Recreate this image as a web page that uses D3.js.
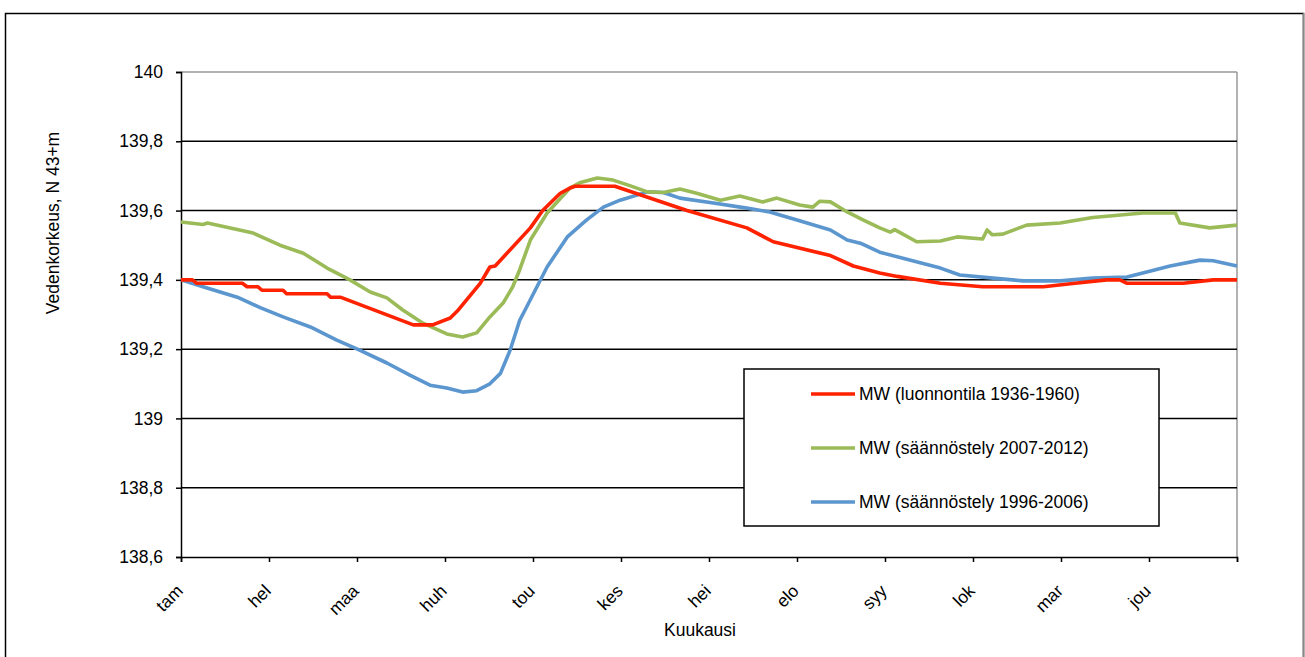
<!DOCTYPE html>
<html><head><meta charset="utf-8">
<script src="https://cdn.jsdelivr.net/npm/d3@7"></script>
<style>body{margin:0;background:#fff}svg{display:block;font-family:"Liberation Sans",Arial,sans-serif}</style>
</head><body><svg id="c" width="1305" height="657"></svg>
<script>
const months = ["tam","hel","maa","huh","tou","kes","hei","elo","syy","lok","mar","jou"];
const yTicks = [138.6,138.8,139,139.2,139.4,139.6,139.8,140];
const seriesNames = ["MW (luonnontila 1936-1960)","MW (säännöstely 2007-2012)","MW (säännöstely 1996-2006)"];
const seriesColors = ["#ff2200","#9bbb59","#5b96cf"];

// x in months (0 = start of January, 12 = end of December)
const redX = [0,0.13,0.18,0.70,0.75,0.875,0.92,1.16,1.20,1.66,1.70,1.81,2.64,2.86,3.06,3.14,3.40,3.51,3.57,3.97,4.11,4.31,4.42,4.48,4.93,5.75,6.43,6.73,7.38,7.64,7.94,8.14,8.63,9.11,9.80,10.16,10.52,10.67,10.75,11.39,11.73,12];
const redY = [139.40,139.40,139.39,139.39,139.38,139.38,139.37,139.37,139.36,139.36,139.35,139.35,139.27,139.27,139.29,139.31,139.39,139.437,139.44,139.55,139.60,139.65,139.665,139.67,139.67,139.60,139.55,139.51,139.47,139.44,139.42,139.41,139.39,139.38,139.38,139.39,139.40,139.40,139.39,139.39,139.40,139.40];

const greenX = [0,0.25,0.3,0.56,0.82,1.125,1.39,1.66,1.92,2.15,2.34,2.52,2.75,3.02,3.20,3.36,3.51,3.66,3.77,3.85,3.97,4.16,4.42,4.53,4.73,4.91,5.10,5.30,5.48,5.67,5.86,6.13,6.35,6.61,6.77,7.03,7.18,7.26,7.38,7.57,7.75,7.94,8.06,8.11,8.36,8.63,8.82,9.11,9.16,9.22,9.34,9.61,9.99,10.36,10.93,11.30,11.35,11.69,12];
const greenY = [139.567,139.56,139.564,139.55,139.535,139.50,139.477,139.434,139.40,139.365,139.348,139.313,139.275,139.244,139.235,139.247,139.293,139.333,139.38,139.43,139.515,139.593,139.665,139.68,139.694,139.688,139.672,139.654,139.652,139.662,139.65,139.63,139.642,139.625,139.636,139.616,139.61,139.627,139.625,139.596,139.573,139.55,139.538,139.545,139.51,139.512,139.524,139.518,139.544,139.53,139.532,139.558,139.564,139.58,139.593,139.593,139.564,139.55,139.558];

const blueX = [0,0.25,0.64,0.90,1.16,1.47,1.77,2.03,2.34,2.60,2.83,3.02,3.20,3.36,3.51,3.63,3.74,3.85,3.91,4.16,4.39,4.61,4.80,4.99,5.30,5.48,5.67,6.05,6.43,6.69,7.00,7.38,7.57,7.72,7.94,8.28,8.63,8.85,9.23,9.57,9.99,10.36,10.75,10.93,11.24,11.58,11.73,12];
const blueY = [139.40,139.38,139.35,139.32,139.293,139.264,139.226,139.197,139.16,139.125,139.096,139.088,139.076,139.08,139.10,139.13,139.197,139.284,139.313,139.437,139.524,139.573,139.61,139.63,139.654,139.652,139.636,139.622,139.607,139.596,139.573,139.544,139.515,139.506,139.48,139.457,139.434,139.414,139.405,139.397,139.397,139.405,139.408,139.42,139.44,139.457,139.455,139.44];

const svg = d3.select("#c");
const L = 181, R = 1237, T = 72, B = 557;
const FS = 17.5;
const x = d3.scaleLinear().domain([0,12]).range([L,R]);
const y = d3.scaleLinear().domain([138.6,140]).range([B,T]);

// outer chart border
svg.append("rect").attr("x",5.5).attr("y",13.5).attr("width",1298).attr("height",700)
  .attr("fill","none").attr("stroke","#000").attr("stroke-width",1.5);
svg.append("line").attr("x1",1303.5).attr("x2",1303.5).attr("y1",13).attr("y2",657).attr("stroke","#888").attr("stroke-width",1.5);

// plot border (top, right) gray
svg.append("line").attr("x1",L).attr("x2",R).attr("y1",T).attr("y2",T).attr("stroke","#999").attr("stroke-width",1.5);
svg.append("line").attr("x1",R).attr("x2",R).attr("y1",T).attr("y2",B).attr("stroke","#999").attr("stroke-width",1.5);

// gridlines
svg.append("g").selectAll("line").data(yTicks.filter(d=>d>138.6 && d<140)).join("line")
  .attr("x1",L).attr("x2",R).attr("y1",d=>y(d)).attr("y2",d=>y(d))
  .attr("stroke","#000").attr("stroke-width",1.5);

// y axis
const fmt = d => String(+d.toFixed(1)).replace(".",",");
const ya = svg.append("g").attr("transform",`translate(${L},0)`)
  .call(d3.axisLeft(y).tickValues(yTicks).tickFormat(fmt).tickSize(5).tickPadding(13));
ya.attr("font-size",FS).attr("font-family","Liberation Sans, Arial, sans-serif");
ya.select(".domain").attr("stroke","#000").attr("stroke-width",1.5);
ya.selectAll(".tick line").attr("stroke","#000").attr("stroke-width",1.5);
ya.selectAll("text").attr("fill","#000");

// x axis
const xa = svg.append("g").attr("transform",`translate(0,${B})`)
  .call(d3.axisBottom(x).tickValues(d3.range(0,13)).tickSize(5).tickFormat(""));
xa.select(".domain").attr("stroke","#000").attr("stroke-width",1.5);
xa.selectAll(".tick line").attr("stroke","#000").attr("stroke-width",1.5);
svg.append("g").attr("font-size",FS).selectAll("text").data(months).join("text")
  .attr("transform",(d,i)=>`translate(${x(i)+3},${B+35}) rotate(-45)`)
  .attr("text-anchor","end").attr("fill","#000").text(d=>d);

// titles
svg.append("text").attr("transform","translate(59,223) rotate(-90)").attr("text-anchor","middle")
  .attr("font-size",FS).text("Vedenkorkeus, N 43+m");
svg.append("text").attr("x",700).attr("y",636).attr("text-anchor","middle").attr("font-size",FS).text("Kuukausi");

// lines
const line = d3.line().x(d=>x(d[0])).y(d=>y(d[1]));
const allSeries = [d3.zip(blueX,blueY), d3.zip(greenX,greenY), d3.zip(redX,redY)];
const cols = [seriesColors[2],seriesColors[1],seriesColors[0]];
allSeries.forEach((s,i)=>{
  svg.append("path").datum(s).attr("d",line).attr("fill","none")
    .attr("stroke",cols[i]).attr("stroke-width",3.6).attr("stroke-linejoin","round");
});

// legend
const lg = svg.append("g");
lg.append("rect").attr("x",744).attr("y",369).attr("width",415).attr("height",157)
  .attr("fill","#fff").attr("stroke","#000").attr("stroke-width",1.5);
const ly = [394,448,502];
seriesNames.forEach((n,i)=>{
  lg.append("line").attr("x1",811).attr("x2",855).attr("y1",ly[i]).attr("y2",ly[i])
    .attr("stroke",seriesColors[i]).attr("stroke-width",3.6);
  lg.append("text").attr("x",859).attr("y",ly[i]+6).attr("font-size",FS).text(n);
});
</script></body></html>
